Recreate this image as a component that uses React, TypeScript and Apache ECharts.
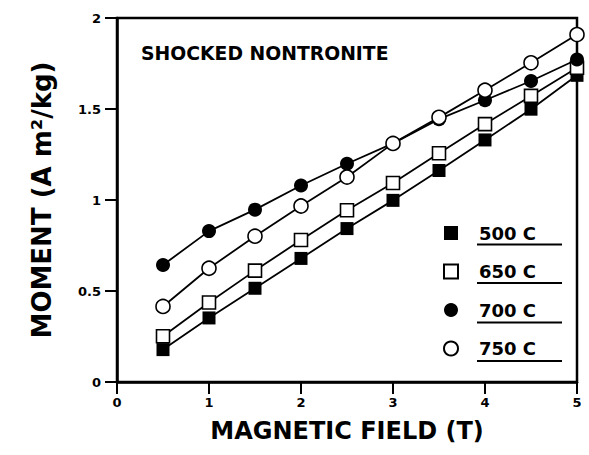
import React, { useEffect, useRef } from "react";
import * as echarts from "echarts";

const fieldT = [0.5, 1, 1.5, 2, 2.5, 3, 3.5, 4, 4.5, 5];
const moment500 = [0.178, 0.352, 0.515, 0.679, 0.843, 0.998, 1.162, 1.33, 1.499, 1.685];
const moment650 = [0.251, 0.437, 0.612, 0.78, 0.944, 1.093, 1.257, 1.417, 1.572, 1.727];
const moment700 = [0.643, 0.829, 0.947, 1.08, 1.199, 1.311, 1.444, 1.548, 1.654, 1.772];
const moment750 = [0.415, 0.625, 0.801, 0.967, 1.126, 1.311, 1.454, 1.603, 1.754, 1.909];
const seriesNames = ["500 C", "650 C", "700 C", "750 C"];

const FONT = "'DejaVu Sans', 'Liberation Sans', sans-serif";

export default function App() {
  const ref = useRef<HTMLDivElement>(null);
  useEffect(() => {
    if (!ref.current) return;
    const chart = echarts.init(ref.current, null, { renderer: "svg" });
    const pts = (ys: number[]) => fieldT.map((x, i) => [x, ys[i]]);
    const sq = "path://M0,0H10V10H0Z";
    const mk = (name: string, ys: number[], symbol: string, filled: boolean) => ({
      name,
      type: "line",
      data: pts(ys),
      symbol,
      symbolSize: symbol === "circle" ? 14 : 13,
      showAllSymbol: true,
      lineStyle: { color: "#000", width: 1.8 },
      itemStyle: {
        color: filled ? "#000" : "#fff",
        borderColor: "#000",
        borderWidth: filled ? 0 : 1.6,
      },
      z: 3,
    });
    chart.setOption({
      animation: false,
      backgroundColor: "#fff",
      textStyle: { fontFamily: FONT, color: "#000" },
      title: {
        text: "SHOCKED NONTRONITE",
        left: 141,
        top: 44,
        padding: 0,
        textStyle: { fontFamily: FONT, fontWeight: "bold", fontSize: 18.8, color: "#000" },
      },
      grid: {
        left: 117,
        right: 12,
        top: 18,
        bottom: 73,
        show: true,
        borderColor: "#000",
        borderWidth: 2.5,
        backgroundColor: "transparent",
      },
      legend: {
        orient: "vertical",
        left: 443,
        top: 224,
        itemWidth: 14,
        itemHeight: 14,
        itemGap: 20.5,
        padding: 0,
        selectedMode: false,
        data: [
          { name: seriesNames[0], icon: sq },
          { name: seriesNames[1], icon: sq },
          { name: seriesNames[2], icon: "circle" },
          { name: seriesNames[3], icon: "circle" },
        ],
        textStyle: {
          fontFamily: FONT,
          fontWeight: "bold",
          fontSize: 18,
          lineHeight: 18,
          color: "#000",
          padding: [0, 0, 0, 16],
        },
      },
      xAxis: {
        type: "value",
        min: 0,
        max: 5,
        interval: 1,
        name: "MAGNETIC FIELD (T)",
        nameLocation: "middle",
        nameGap: 37,
        nameTextStyle: { fontFamily: FONT, fontWeight: "bold", fontSize: 24, color: "#000" },
        axisLine: { show: true, lineStyle: { color: "#000", width: 2.5 } },
        axisTick: { show: true, inside: false, length: 12, lineStyle: { color: "#000", width: 2 } },
        axisLabel: { margin: 14, fontFamily: FONT, fontWeight: "bold", fontSize: 13, color: "#000" },
        splitLine: { show: false },
      },
      yAxis: {
        type: "value",
        min: 0,
        max: 2,
        interval: 0.5,
        name: "MOMENT (A m²/kg)",
        nameLocation: "middle",
        nameGap: 62,
        nameRotate: 90,
        nameTextStyle: { fontFamily: FONT, fontWeight: "bold", fontSize: 26, color: "#000" },
        axisLine: { show: true, lineStyle: { color: "#000", width: 2.5 } },
        axisTick: { show: true, inside: false, length: 12, lineStyle: { color: "#000", width: 2 } },
        axisLabel: { margin: 16, fontFamily: FONT, fontWeight: "bold", fontSize: 13, color: "#000" },
        splitLine: { show: false },
      },
      graphic: [244.5, 283, 322.5, 361].map((y) => ({
        type: "line",
        shape: { x1: 477, y1: y, x2: 562, y2: y },
        style: { stroke: "#000", lineWidth: 2 },
        silent: true,
      })),
      series: [
        mk(seriesNames[0], moment500, sq, true),
        mk(seriesNames[1], moment650, sq, false),
        mk(seriesNames[2], moment700, "circle", true),
        mk(seriesNames[3], moment750, "circle", false),
      ],
    });
    return () => chart.dispose();
  }, []);
  return <div ref={ref} style={{ width: 589, height: 455, position: "absolute", left: 0, top: 0 }} />;
}
